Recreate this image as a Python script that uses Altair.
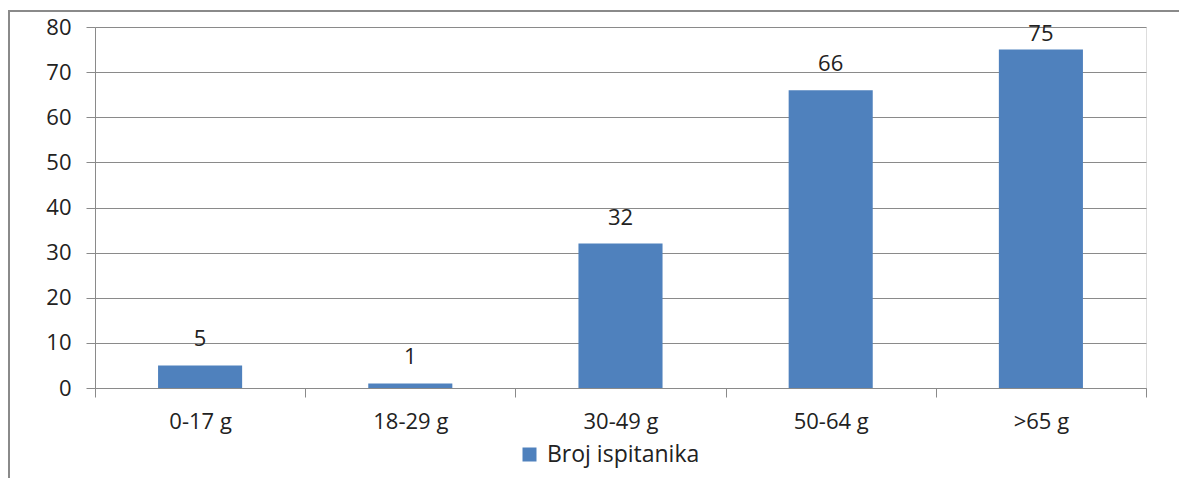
import altair as alt
import pandas as pd

categories = ["0-17 g", "18-29 g", "30-49 g", "50-64 g", ">65 g"]
values = [5, 1, 32, 66, 75]
series_name = "Broj ispitanika"
y_ticks = [0, 10, 20, 30, 40, 50, 60, 70, 80]

df = pd.DataFrame({"cat": categories, "val": values, "series": [series_name] * len(values)})

FONT = "Open Sans"
GRID = "#8a8a8a"
TXT = "#222222"
BAR = "#4F81BD"

base = alt.Chart(df)

bars = base.mark_bar(width=alt.RelativeBandSize(0.4)).encode(
    x=alt.X("cat:N", sort=categories, title=None,
            scale=alt.Scale(paddingInner=0, paddingOuter=0),
            axis=alt.Axis(labelAngle=0, tickBand="extent", ticks=True, tickSize=9,
                          tickColor=GRID, domainColor=GRID, labelFont=FONT,
                          labelFontSize=22, labelColor=TXT, labelPadding=14, grid=False)),
    y=alt.Y("val:Q", title=None,
            scale=alt.Scale(domain=[0, 80], nice=False),
            axis=alt.Axis(values=y_ticks, tickSize=9, tickColor=GRID, domainColor=GRID,
                          gridColor=GRID, gridWidth=1, grid=True, labelFont=FONT,
                          labelFontSize=22, labelColor=TXT, labelPadding=15)),
    color=alt.Color("series:N", title=None,
                    scale=alt.Scale(range=[BAR]),
                    legend=alt.Legend(orient="none", legendX=423, legendY=416,
                                      symbolType="square", symbolSize=196,
                                      symbolStrokeWidth=0, labelFont=FONT,
                                      labelFontSize=23, labelColor=TXT,
                                      labelOffset=6, padding=0)),
)

labels = base.transform_calculate(
    lab_y="min(datum.val, 72.7)"
).mark_text(dy=-19, baseline="alphabetic", align="center", font=FONT,
            fontSize=22, color=TXT).encode(
    x=alt.X("cat:N", sort=categories),
    y=alt.Y("lab_y:Q"),
    text=alt.Text("val:Q"),
)

frame_src = alt.Chart(alt.Data(values=[{"a": 1}]))
frame_left = frame_src.mark_rule(color="#8a8a8a", strokeWidth=2).encode(
    x=alt.value(-86), y=alt.value(-17), y2=alt.value(700)
)
frame_top = frame_src.mark_rule(color="#8a8a8a", strokeWidth=2).encode(
    x=alt.value(-87), x2=alt.value(1300), y=alt.value(-16)
)

chart = alt.layer(bars, labels, frame_left, frame_top).properties(
    width=1051, height=361,
    autosize=alt.AutoSizeParams(type="none"),
    padding={"left": 87, "top": 19, "right": 33, "bottom": 90},
).configure_view(stroke=None).configure(background="white")

chart.save("out.html", embed_options={"renderer": "svg", "actions": False})
